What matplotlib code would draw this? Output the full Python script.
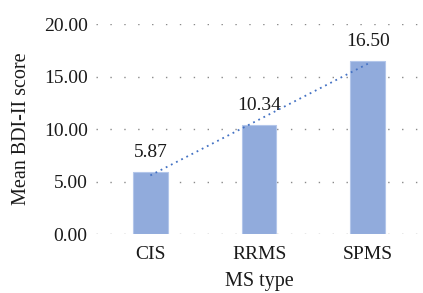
import numpy as np
import matplotlib
matplotlib.use('Agg')
import matplotlib.pyplot as plt

# data
ms_types = ['CIS', 'RRMS', 'SPMS']
mean_bdi = [5.87, 10.34, 16.50]
y_ticks = [0, 5, 10, 15, 20]

plt.rcParams['font.family'] = ['Liberation Serif', 'DejaVu Serif']
plt.rcParams['font.size'] = 14

fig = plt.figure(figsize=(4.23, 2.93), dpi=100)
ax = fig.add_axes([0.227, 0.201, 0.771, 0.717])

x = np.arange(len(ms_types))
ax.bar(x, mean_bdi, width=0.32, color='#91abdc', edgecolor='#b3c6ea',
       linewidth=0.8, zorder=2)

# value labels
for xi, v in zip(x, mean_bdi):
    ax.annotate(f'{v:.2f}', (xi, v), xytext=(0, 8), textcoords='offset points',
                ha='center', va='bottom', fontsize=14, color='#1a1a1a')

# linear trendline
k, b = np.polyfit(x, mean_bdi, 1)
ax.plot(x, k * x + b, linestyle=(0, (1, 2.2)), color='#4472c4',
        linewidth=1.3, zorder=3)

ax.set_xlim(-0.5, 2.5)
ax.set_ylim(0, 20)
ax.set_yticks(y_ticks)
ax.set_yticklabels([f'{t:.2f}' for t in y_ticks])
ax.set_xticks(x)
ax.set_xticklabels(ms_types)

ax.grid(axis='y', linestyle=(0, (1, 9)), color='#8a8a8a', linewidth=1.0, zorder=0)
ax.set_axisbelow(True)
for s in ax.spines.values():
    s.set_visible(False)
ax.tick_params(length=0, colors='#1a1a1a')
ax.tick_params(axis='y', pad=6)
ax.tick_params(axis='x', pad=8.5)

ax.set_xlabel('MS type', color='#1a1a1a', labelpad=6.5, fontsize=14.5)
ax.set_ylabel('Mean BDI-II score', color='#1a1a1a', labelpad=9, fontsize=14.5)

fig.savefig('out.png', dpi=100)
